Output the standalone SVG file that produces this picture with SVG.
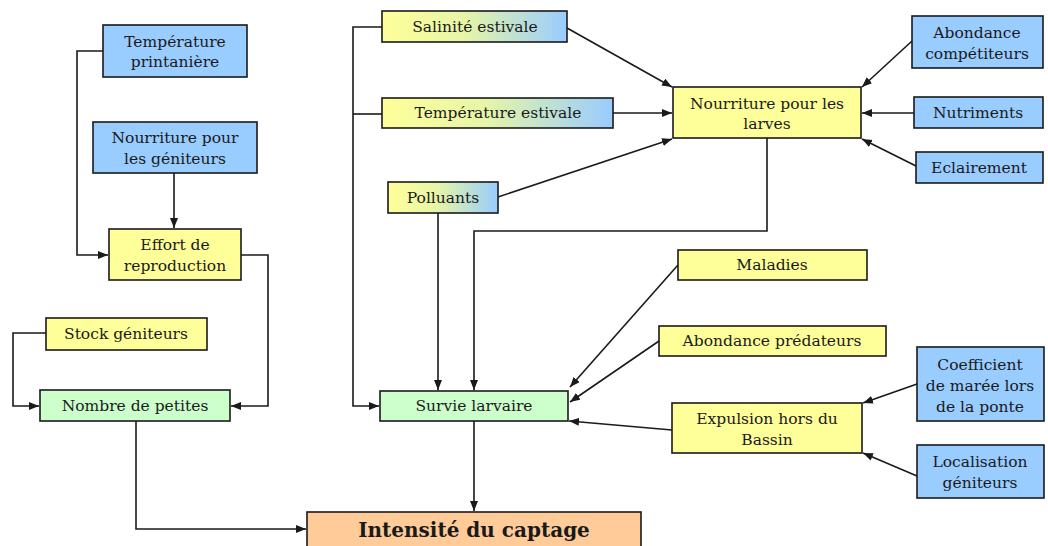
<svg xmlns="http://www.w3.org/2000/svg" width="1048" height="546" viewBox="0 0 1048 546">
<style>
.b{stroke:#1a1a1a;stroke-width:1.6}
.bl{fill:#99ccff}.ye{fill:#ffff99}.gr{fill:#ccffcc}.or{fill:#ffcc99}.gd{fill:url(#g)}
text{font-family:"DejaVu Serif","Liberation Serif",serif;font-size:15.5px;fill:#1a1a1a;text-anchor:middle}
.big{font-size:20px;font-weight:bold}
.c path{fill:none;stroke:#1a1a1a;stroke-width:1.6}
.c .a{marker-end:url(#ar)}
</style>
<defs>
<linearGradient id="g" x1="0" y1="0" x2="1" y2="0">
<stop offset="0" stop-color="#ffff99"/><stop offset="0.45" stop-color="#e6f5a8"/><stop offset="1" stop-color="#99ccff"/>
</linearGradient>
<marker id="ar" markerWidth="11" markerHeight="9" refX="10" refY="4" orient="auto" markerUnits="userSpaceOnUse">
<path d="M0,0 L10,4 L0,8 z" fill="#1a1a1a"/>
</marker>
</defs>
<g class="c">
<path class="a" d="M103,51 H77 V255 H108"/>
<path class="a" d="M174,173 V228"/>
<path class="a" d="M241,255 H268 V406 H231"/>
<path class="a" d="M46,333 H13 V406 H39"/>
<path class="a" d="M136,421 V529 H306"/>
<path class="a" d="M382,27 H353 V406 H379"/>
<path d="M382,114 H353"/>
<path class="a" d="M438,213 V390"/>
<path class="a" d="M767,138 V231 H474 V390"/>
<path class="a" d="M474,421 V511"/>
<path class="a" d="M567,28 L672,87"/>
<path class="a" d="M613,113 H672"/>
<path class="a" d="M498,197 L672,139"/>
<path class="a" d="M912,41 L862,87"/>
<path class="a" d="M914,113 H862"/>
<path class="a" d="M916,166 L862,139"/>
<path class="a" d="M678,265 L570,387"/>
<path class="a" d="M659,341 L570,402"/>
<path class="a" d="M672,430 L569,421"/>
<path class="a" d="M917,384 L863,403"/>
<path class="a" d="M917,476 L863,453"/>
</g>
<g id="temperature-printaniere"><rect class="b bl" x="103" y="25" width="144" height="52"/><text x="175" y="47">Température</text><text x="175" y="67">printanière</text></g>
<g id="nourriture-geniteurs"><rect class="b bl" x="93" y="122" width="164" height="51"/><text x="175" y="143">Nourriture pour</text><text x="175" y="164">les géniteurs</text></g>
<g id="effort-reproduction"><rect class="b ye" x="109" y="229" width="132" height="51"/><text x="175" y="250">Effort de</text><text x="175" y="271">reproduction</text></g>
<g id="stock-geniteurs"><rect class="b ye" x="46" y="318" width="161" height="32"/><text x="126" y="339">Stock géniteurs</text></g>
<g id="nombre-petites"><rect class="b gr" x="40" y="390" width="190" height="31"/><text x="135" y="411">Nombre de petites</text></g>
<g id="intensite-captage"><rect class="b or" x="307" y="512" width="334" height="42"/><text class="big" x="474" y="537">Intensité du captage</text></g>
<g id="salinite-estivale"><rect class="b gd" x="382" y="11" width="185" height="31"/><text x="475" y="32">Salinité estivale</text></g>
<g id="temperature-estivale"><rect class="b gd" x="382" y="98" width="231" height="30"/><text x="498" y="118">Température estivale</text></g>
<g id="polluants"><rect class="b gd" x="388" y="182" width="110" height="31"/><text x="443" y="203">Polluants</text></g>
<g id="survie-larvaire"><rect class="b gr" x="380" y="391" width="188" height="30"/><text x="474" y="411">Survie larvaire</text></g>
<g id="nourriture-larves"><rect class="b ye" x="673" y="87" width="188" height="51"/><text x="767" y="109">Nourriture pour les</text><text x="767" y="129">larves</text></g>
<g id="abondance-competiteurs"><rect class="b bl" x="912" y="16" width="131" height="52"/><text x="977" y="38">Abondance</text><text x="977" y="59">compétiteurs</text></g>
<g id="nutriments"><rect class="b bl" x="914" y="97" width="129" height="31"/><text x="978" y="118">Nutriments</text></g>
<g id="eclairement"><rect class="b bl" x="916" y="152" width="127" height="31"/><text x="979" y="173">Eclairement</text></g>
<g id="maladies"><rect class="b ye" x="678" y="250" width="189" height="30"/><text x="772" y="270">Maladies</text></g>
<g id="abondance-predateurs"><rect class="b ye" x="659" y="326" width="227" height="30"/><text x="772" y="346">Abondance prédateurs</text></g>
<g id="expulsion-bassin"><rect class="b ye" x="672" y="403" width="190" height="50"/><text x="767" y="424">Expulsion hors du</text><text x="767" y="445">Bassin</text></g>
<g id="coefficient-maree"><rect class="b bl" x="917" y="347" width="127" height="74"/><text x="980" y="370">Coefficient</text><text x="980" y="391">de marée lors</text><text x="980" y="412">de la ponte</text></g>
<g id="localisation-geniteurs"><rect class="b bl" x="917" y="445" width="127" height="53"/><text x="980" y="467">Localisation</text><text x="980" y="488">géniteurs</text></g>
</svg>
